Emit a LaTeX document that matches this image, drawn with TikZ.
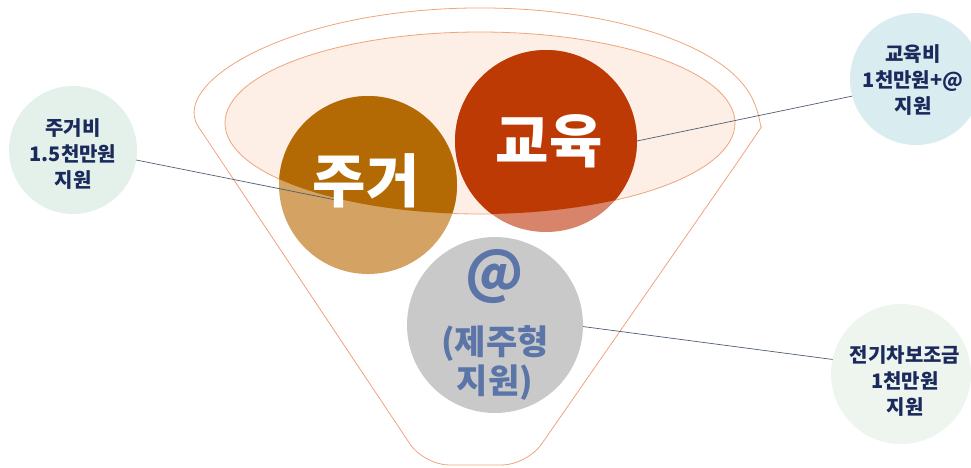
\documentclass[tikz,border=0pt]{standalone}
\usepackage{fontspec}
\setmainfont{Noto Sans CJK KR}
\definecolor{funnelline}{HTML}{EFA47A}
\definecolor{innerfill}{HTML}{FDEEE6}
\definecolor{jugeD}{HTML}{B36A05}
\definecolor{jugeL}{HTML}{D4A364}
\definecolor{eduD}{HTML}{BE3A05}
\definecolor{eduL}{HTML}{D8846A}
\definecolor{jejuG}{HTML}{C9C9C9}
\definecolor{jejuTxt}{HTML}{5B75A8}
\definecolor{navytxt}{HTML}{1B2A5C}
\definecolor{connline}{HTML}{4E5E74}
\definecolor{greenL}{HTML}{E3F1EA}
\definecolor{blueL}{HTML}{D9ECF0}
\definecolor{greenL2}{HTML}{EEF4EE}
\begin{document}
\begin{tikzpicture}[x=1pt,y=-1pt,
  funnel/.style={draw=funnelline, line width=0.8pt},
  bigcirc/.style={circle, minimum size=#1, inner sep=0pt, outer sep=0pt},
  smallcirc/.style={circle, minimum size=#1, inner sep=0pt, outer sep=0pt},
  smalltext/.style={font=\bfseries\fontsize{20}{26}\selectfont, text=navytxt, align=center, inner sep=0pt},
  bigtext/.style={font=\bfseries\fontsize{58}{60}\selectfont, text=white, inner sep=0pt},
  jejutext/.style={font=\bfseries\fontsize{34}{39}\selectfont, text=jejuTxt, align=center, inner sep=0pt},
  conn/.style={draw=connline, line width=0.7pt}]
\path[use as bounding box] (0,0) rectangle (971,467);
% funnel outline
\draw[funnel, rounded corners=25] (212.4,147.7)
  arc[start angle=165, end angle=375, x radius=277, y radius=111]
  -- (527,465) -- (424,465) -- cycle;
% inner ellipse
\filldraw[fill=innerfill, draw=funnelline, line width=0.8pt]
  (480,123) ellipse [x radius=255, y radius=91];
% small circles
\node[smallcirc=128pt, fill=greenL] (s1) at (73,150) {};
\node[smallcirc=132pt, fill=blueL] (s2) at (916,79) {};
\node[smallcirc=140pt, fill=greenL2] (s3) at (901,374) {};
% big circles
\node[bigcirc=178pt, fill=jugeL] (juge) at (368,185) {};
\node[bigcirc=182pt, fill=eduL] (edu) at (546,141) {};
\node[bigcirc=176pt, fill=jejuG] (jeju) at (495,325) {};
\begin{scope}
  \clip (480,123) ellipse [x radius=255, y radius=91];
  \fill[jugeD] (juge.center) circle[radius=89];
  \fill[eduD] (edu.center) circle[radius=91];
\end{scope}
% connectors
\coordinate (jugeIn) at (336,200);
\draw[conn] (s1.-9) -- (jugeIn);
\draw[conn] (s2.195) -- (edu.east);
\draw[conn] (s3.168) -- (jeju.-1);
% texts
\node[bigtext] (jugeT) at (366,181) {주거};
\node[bigtext] (eduT) at (549,141) {교육};
\node[jejutext, font=\bfseries\fontsize{56}{60}\selectfont] (jejuAt) at (495,277) {@};
\node[jejutext] (jejuT) at (495,363) {(제주형\\지원)};
\node[smalltext] (s1T) at (73,154) {주거비\\1.5천만원\\지원};
\node[smalltext] (s2T) at (913,80) {교육비\\1천만원+@\\지원};
\node[smalltext] (s3T) at (905,381) {전기차보조금\\1천만원\\지원};
\end{tikzpicture}
\end{document}
